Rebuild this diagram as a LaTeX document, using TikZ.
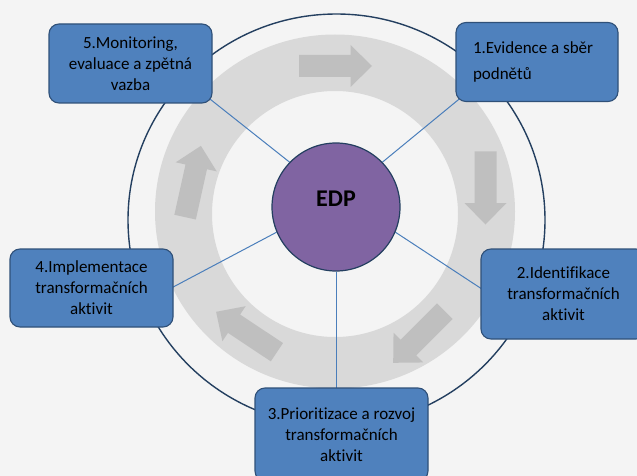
\documentclass[tikz,border=0pt]{standalone}
\usepackage{fontspec}
\setmainfont{Carlito}[Ligatures=NoCommon]
\usetikzlibrary{calc}
\definecolor{bgc}{HTML}{F4F4F4}
\definecolor{ringgray}{HTML}{D9D9D9}
\definecolor{arrowgray}{HTML}{BFBFBF}
\definecolor{boxblue}{HTML}{4F81BD}
\definecolor{boxborder}{HTML}{2F5078}
\definecolor{navy}{HTML}{243F60}
\definecolor{edppurple}{HTML}{8064A2}
\definecolor{connblue}{HTML}{4A7EBB}
\pgfdeclarelayer{back}
\pgfdeclarelayer{lines}
\pgfsetlayers{back,lines,main}
\tikzset{
  box/.style={draw=boxborder, fill=boxblue, rounded corners=10pt, line width=1.1pt,
    align=center, text=black, font=\fontsize{17}{21}\selectfont, inner sep=0pt},
  conn/.style={draw=connblue, line width=1pt},
  ringarrow/.pic={\fill[arrowgray] (-36.5,-11) -- (15,-11) -- (15,-21) -- (36.5,0)
     -- (15,21) -- (15,11) -- (-36.5,11) -- cycle;}
}
\begin{document}
\begin{tikzpicture}[x=1pt,y=-1pt]
\useasboundingbox (0,0) rectangle (637,476);
\begin{pgfonlayer}{back}
\fill[bgc] (0,0) rectangle (637,476);
\fill[ringgray, even odd rule] (335,211.5) ellipse [x radius=180, y radius=177]
   (335,214) circle [radius=123];
\path (335.5,66) pic {ringarrow};
\path (485.5,188) pic[rotate=-90] {ringarrow};
\path (419,337) pic[rotate=225] {ringarrow};
\path (246.5,332) pic[rotate=146.4] {ringarrow};
\path (193,181.5) pic[rotate=77.5] {ringarrow};
\draw[navy, line width=1.4pt] (336.5,220) ellipse [x radius=208.5, y radius=206];
\end{pgfonlayer}

\node[circle, fill=edppurple, draw=navy, line width=1.2pt, minimum size=128pt, inner sep=0pt,
  font=\fontsize{24}{28}\selectfont\bfseries, text height=15.5pt, text depth=16pt] (edp) at (336,207) {EDP};

\node[box, minimum width=163pt, minimum height=79pt] (b5) at (130.5,63.5)
  {5.Monitoring,\\evaluace a zpětná\\vazba};
\node[box, minimum width=162pt, minimum height=79pt, align=flush left, text width=128pt] (b1) at (537,62)
  {1.Evidence a sběr\\[5pt]podnětů};
\node[box, minimum width=165pt, minimum height=90pt] (b2) at (563.5,294)
  {2.Identifikace\\transformačních\\aktivit};
\node[box, minimum width=173pt, minimum height=93pt] (b3) at (341.5,434.5)
  {3.Prioritizace a rozvoj\\transformačních\\aktivit};
\node[box, minimum width=163pt, minimum height=78pt] (b4) at (91.5,288)
  {4.Implementace\\transformačních\\aktivit};

\begin{pgfonlayer}{lines}
\draw[conn] (edp.136) -- ($(b5.south east)+(-7,-8)$);
\draw[conn] (edp.44) -- ($(b1.south west)+(8,-6.5)$);
\draw[conn] (edp.-23.5) -- ($(b2.west)+(6,-2)$);
\draw[conn] (edp.south) -- ($(edp.south |- b3.north)+(0,6)$);
\draw[conn] (edp.203) -- ($(b4.east)+(-6,2)$);
\end{pgfonlayer}
\end{tikzpicture}
\end{document}
